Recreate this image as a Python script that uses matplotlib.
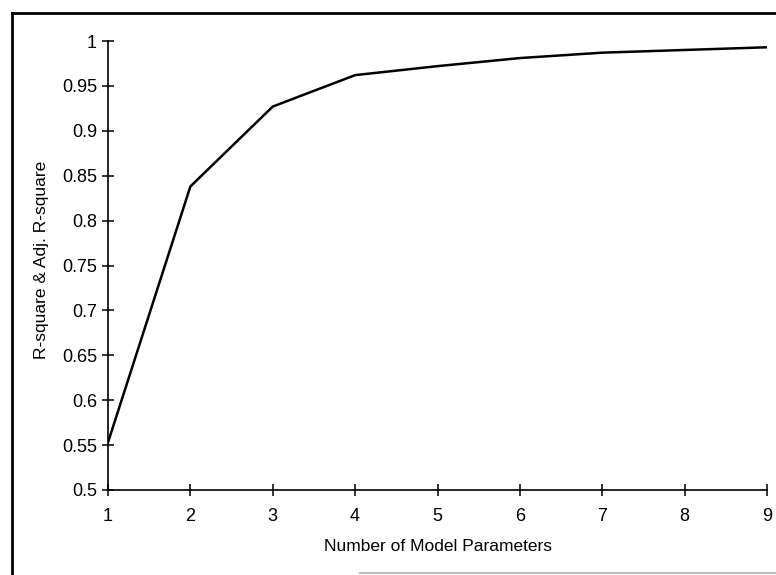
import matplotlib
matplotlib.use('Agg')
import matplotlib.pyplot as plt
from matplotlib.lines import Line2D

# data
params = [1, 2, 3, 4, 5, 6, 7, 8, 9]
rsq = [0.553, 0.838, 0.927, 0.962, 0.972, 0.981, 0.987, 0.990, 0.993]
yticks = [0.5, 0.55, 0.6, 0.65, 0.7, 0.75, 0.8, 0.85, 0.9, 0.95, 1]
ytick_labels = ['0.5', '0.55', '0.6', '0.65', '0.7', '0.75', '0.8', '0.85', '0.9', '0.95', '1']

plt.rcParams['font.family'] = ['Liberation Sans', 'DejaVu Sans']

fig = plt.figure(figsize=(7.76, 5.75), dpi=100)
ax = fig.add_axes([108/776, 1 - 490/575, (767 - 108)/776, (490 - 41)/575])

ax.plot(params, rsq, color='black', lw=1.8)

ax.set_xlim(1, 9)
ax.set_ylim(0.5, 1)
ax.set_xticks(params)
ax.set_yticks(yticks)
ax.set_yticklabels(ytick_labels)
ax.spines['top'].set_visible(False)
ax.spines['right'].set_visible(False)
ax.spines['left'].set_linewidth(1.2)
ax.spines['bottom'].set_linewidth(1.2)
ax.tick_params(direction='inout', length=8, width=1.1, labelsize=13)
ax.tick_params(axis='x', pad=9)
ax.tick_params(axis='y', pad=4)

ax.set_xlabel('Number of Model Parameters', fontsize=12.5, labelpad=10)
ax.set_ylabel('R-square & Adj. R-square', fontsize=12.5)
ax.yaxis.set_label_coords(-0.09, 0.512)

# outer frame
fig.add_artist(Line2D([12/776, 12/776], [1 - 575/575, 1 - 13/575], color='black', lw=2, transform=fig.transFigure))
fig.add_artist(Line2D([12/776, 776/776], [1 - 13/575, 1 - 13/575], color='black', lw=2, transform=fig.transFigure))
fig.add_artist(Line2D([360/776, 776/776], [1 - 573/575, 1 - 573/575], color='#bbbbbb', lw=1.5, transform=fig.transFigure))

fig.savefig('out.png', dpi=100)
